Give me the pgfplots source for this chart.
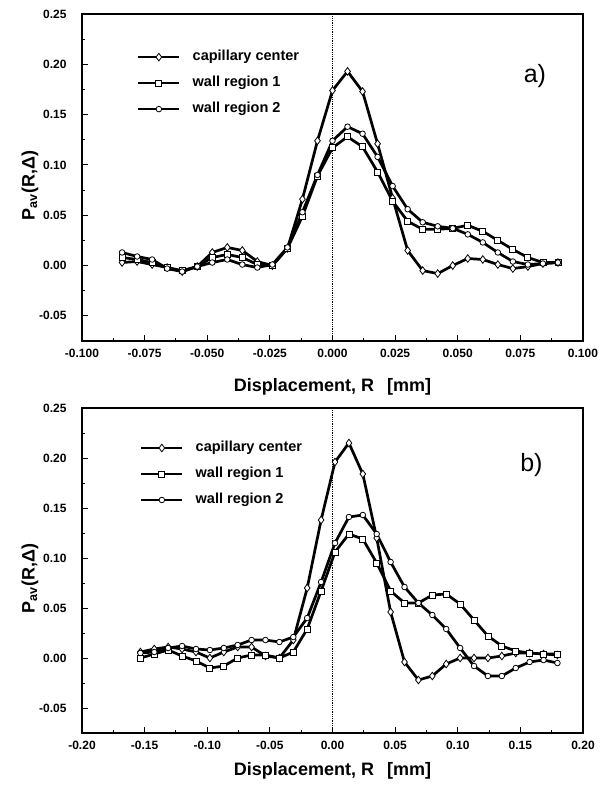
\documentclass[border=0pt]{standalone}
\usepackage{fontspec}
\setmainfont{Liberation Sans}
\usepackage{pgfplots}
\pgfplotsset{compat=1.18}

\pgfplotstableread{
R cc w1 w2
-0.084 0.003 0.008 0.013
-0.078 0.004 0.006 0.009
-0.072 0.001 0.003 0.006
-0.066 -0.002 -0.002 -0.003
-0.060 -0.006 -0.005 -0.006
-0.054 -0.001 -0.001 -0.001
-0.048 0.013 0.008 0.003
-0.042 0.018 0.011 0.006
-0.036 0.015 0.008 0.001
-0.030 0.004 0.001 -0.002
-0.024 0.000 0.000 0.001
-0.018 0.017 0.017 0.018
-0.012 0.066 0.049 0.053
-0.006 0.124 0.089 0.090
0.000 0.174 0.117 0.124
0.006 0.193 0.128 0.138
0.012 0.173 0.118 0.131
0.018 0.121 0.093 0.108
0.024 0.067 0.064 0.079
0.030 0.015 0.044 0.056
0.036 -0.005 0.036 0.043
0.042 -0.008 0.036 0.039
0.048 0.000 0.037 0.037
0.054 0.007 0.040 0.031
0.060 0.006 0.034 0.023
0.066 0.001 0.025 0.013
0.072 -0.003 0.016 0.004
0.078 -0.001 0.008 0.001
0.084 0.002 0.003 0.002
0.090 0.003 0.003 0.003
}\dataA

\pgfplotstableread{
R cc w1 w2
-0.1534 0.006 0.000 0.005
-0.1423 0.009 0.004 0.006
-0.1312 0.011 0.008 0.010
-0.1201 0.009 0.002 0.012
-0.1090 0.006 -0.003 0.009
-0.0979 0.000 -0.010 0.008
-0.0868 0.006 -0.008 0.010
-0.0757 0.011 0.000 0.013
-0.0646 0.011 0.003 0.018
-0.0535 0.002 0.003 0.018
-0.0424 0.000 0.000 0.016
-0.0313 0.018 0.006 0.021
-0.0202 0.070 0.029 0.040
-0.0091 0.138 0.067 0.076
0.0020 0.196 0.106 0.115
0.0131 0.215 0.124 0.141
0.0242 0.184 0.119 0.143
0.0353 0.120 0.095 0.124
0.0464 0.046 0.067 0.096
0.0575 -0.004 0.055 0.071
0.0686 -0.022 0.055 0.055
0.0797 -0.018 0.063 0.043
0.0908 -0.006 0.064 0.029
0.1019 0.000 0.054 0.010
0.1130 0.000 0.038 -0.008
0.1241 0.000 0.022 -0.018
0.1352 0.002 0.012 -0.018
0.1463 0.005 0.007 -0.010
0.1574 0.005 0.005 -0.004
0.1685 0.004 0.004 -0.002
0.1796 0.003 0.004 -0.005
}\dataB

\pgfplotsset{
  myaxis/.style={
    scale only axis, width=501pt,
    ymin=-0.075, ymax=0.25,
    ytick={-0.05,0,0.05,0.1,0.15,0.2,0.25},
    minor x tick num=1, minor y tick num=1,
    tick align=inside, tick pos=left,
    major tick length=6pt, minor tick length=3pt,
    every tick/.append style={black, line width=1pt},
    axis line style={line width=1.3pt},
    /pgf/number format/assume math mode=true,
    /pgf/number format/fixed, /pgf/number format/fixed zerofill,
    yticklabel style={/pgf/number format/precision=2},
    tick label style={font=\fontsize{12}{14}\selectfont\bfseries},
    yticklabel shift=12pt, xticklabel shift=5pt,
    ylabel={P\textsubscript{av}(R,Δ)},
    xlabel={Displacement, R\hspace{13pt}[mm]},
    every axis y label/.style={at={(rel axis cs:-0.1038,0.475)}, rotate=90, anchor=center, font=\fontsize{18}{20}\selectfont\bfseries},
    legend cell align=left,
    legend image code/.code={\draw[mark repeat=2,mark phase=2,##1] plot coordinates {(0pt,0pt) (20.5pt,0pt) (41pt,0pt)};},
    legend style={draw=none, fill=none, anchor=north west, inner sep=0pt, outer sep=0pt,
      row sep=13pt, font=\fontsize{14.5}{16}\selectfont\bfseries,
      nodes={inner sep=0pt, text height=10pt, text depth=3pt},
      /tikz/every odd column/.append style={column sep=12pt}},
  },
  cc/.style={black, line width=2.7pt, mark=diamond*, mark size=3.8pt, mark options={fill=white, line width=0.8pt, solid}},
  wa/.style={black, line width=2.7pt, mark=square*, mark size=3pt, mark options={fill=white, line width=0.8pt, solid}},
  wb/.style={black, line width=2.7pt, mark=*, mark size=2.8pt, mark options={fill=white, line width=0.8pt, solid}},
}

\begin{document}
\begin{tikzpicture}
\useasboundingbox (0,0) rectangle (604pt,-790pt);
\begin{axis}[myaxis, at={(82pt,-341pt)}, anchor=south west, height=327pt,
  xmin=-0.1, xmax=0.1,
  xtick={-0.1,-0.075,-0.05,-0.025,0,0.025,0.05,0.075,0.1},
  xticklabel style={/pgf/number format/precision=3},
  every axis x label/.style={at={(rel axis cs:0.5,0)}, yshift=-46pt, anchor=center, font=\fontsize{18}{20}\selectfont\bfseries},
  legend style={at={(0.1098,0.888)}}]
\addplot[black, densely dotted, line width=0.8pt, forget plot] coordinates {(0,-0.075) (0,0.25)};
\addplot[cc] table[x=R,y=cc] {\dataA};
\addlegendentry{capillary center}
\addplot[wa] table[x=R,y=w1] {\dataA};
\addlegendentry{wall region 1}
\addplot[wb] table[x=R,y=w2] {\dataA};
\addlegendentry{wall region 2}
\node[font=\fontsize{25}{28}\selectfont] at (rel axis cs:0.904,0.81) {a)};
\end{axis}
\begin{axis}[myaxis, at={(82pt,-733pt)}, anchor=south west, height=325pt,
  xmin=-0.2, xmax=0.2,
  xtick={-0.2,-0.15,-0.1,-0.05,0,0.05,0.1,0.15,0.2},
  xticklabel style={/pgf/number format/precision=2},
  every axis x label/.style={at={(rel axis cs:0.5,0)}, yshift=-38pt, anchor=center, font=\fontsize{18}{20}\selectfont\bfseries},
  legend style={at={(0.1158,0.897)}}]
\addplot[black, densely dotted, line width=0.8pt, forget plot] coordinates {(0,-0.075) (0,0.25)};
\addplot[cc] table[x=R,y=cc] {\dataB};
\addlegendentry{capillary center}
\addplot[wa] table[x=R,y=w1] {\dataB};
\addlegendentry{wall region 1}
\addplot[wb] table[x=R,y=w2] {\dataB};
\addlegendentry{wall region 2}
\node[font=\fontsize{25}{28}\selectfont] at (rel axis cs:0.897,0.825) {b)};
\end{axis}
\end{tikzpicture}
\end{document}
